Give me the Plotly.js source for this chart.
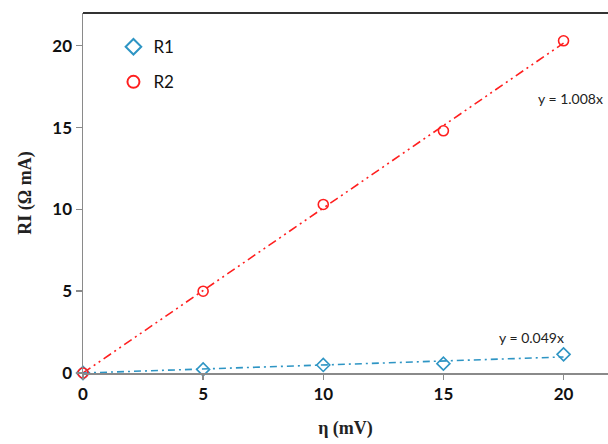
<!DOCTYPE html>
<html>
<head>
<meta charset="utf-8">
<script src="https://cdn.plot.ly/plotly-3.0.1.min.js"></script>
<style>html,body{margin:0;padding:0;background:#fff;}#chart{width:608px;height:444px;}</style>
</head>
<body>
<div id="chart"></div>
<script>
const eta = [0, 5, 10, 15, 20];
const r1 = [0, 0.22, 0.49, 0.57, 1.14];
const r2 = [0, 5.0, 10.3, 14.8, 20.3];
const slopeR1 = 0.049;
const slopeR2 = 1.008;
const trendX = [0, 20];
const xTicks = [0, 5, 10, 15, 20];
const yTicks = [0, 5, 10, 15, 20];

const blue = '#2E95C4';
const red = '#FF1F1F';

const traces = [
  {x: trendX, y: trendX.map(v => v * slopeR2), mode: 'lines', showlegend: false,
   line: {color: red, width: 1.6, dash: '9px,4px,2px,4px,2px,4px'}, hoverinfo: 'skip'},
  {x: trendX, y: trendX.map(v => v * slopeR1), mode: 'lines', showlegend: false,
   line: {color: blue, width: 1.6, dash: '7px,4px,2px,4px'}, hoverinfo: 'skip'},
  {x: eta, y: r1, mode: 'markers', name: 'R1', legendgroup: 'g1', cliponaxis: false,
   marker: {symbol: 'diamond-open', size: 10, color: blue, line: {width: 1.6, color: blue}}},
  {x: eta, y: r2, mode: 'markers', name: 'R2', legendgroup: 'g2', cliponaxis: false,
   marker: {symbol: 'circle-open', size: 10, color: red, line: {width: 1.6, color: red}}}
];

const layout = {
  width: 608, height: 444,
  margin: {l: 83, r: 0, t: 13, b: 71},
  paper_bgcolor: '#fff', plot_bgcolor: '#fff',
  showlegend: true,
  legend: {x: 0.058, y: 0.955, xanchor: 'left', yanchor: 'top', bgcolor: 'rgba(0,0,0,0)',
    font: {family: 'Lato, sans-serif', size: 17, color: '#111'}, tracegroupgap: 10,
    itemwidth: 30, itemsizing: 'constant'},
  xaxis: {
    range: [0, 21.85], tickvals: xTicks, ticktext: xTicks.map(String),
    showgrid: false, zeroline: false, showline: true, linecolor: '#8a8a8a', linewidth: 1.5,
    ticks: 'outside', ticklen: 5, tickcolor: '#8a8a8a', tickwidth: 1.5,
    tickfont: {family: 'Lato, sans-serif', size: 17, color: '#111', weight: 'bold'},
    title: {text: '<b>η (mV)</b>', font: {family: 'Liberation Serif, serif', size: 18, color: '#222'}, standoff: 18}
  },
  yaxis: {
    range: [0, 22], tickvals: yTicks, ticktext: yTicks.map(String),
    showgrid: false, zeroline: false, showline: true, linecolor: '#8a8a8a', linewidth: 1.5,
    ticks: 'outside', ticklen: 6, tickcolor: '#8a8a8a', tickwidth: 1.5,
    tickfont: {family: 'Lato, sans-serif', size: 17, color: '#111', weight: 'bold'},
    title: {text: '<b>RI (Ω mA)</b>', font: {family: 'Liberation Serif, serif', size: 18, color: '#222'}, standoff: 16}
  },
  shapes: [
    {type: 'line', xref: 'paper', yref: 'paper', x0: 0, x1: 1, y0: 1, y1: 1,
     line: {color: '#333', width: 2}}
  ],
  annotations: [
    {x: 20.3, y: 16.8, xref: 'x', yref: 'y', text: 'y = 1.008x', showarrow: false,
     font: {family: 'Lato, sans-serif', size: 14, color: '#222'}},
    {x: 18.65, y: 2.2, xref: 'x', yref: 'y', text: 'y = 0.049x', showarrow: false,
     font: {family: 'Lato, sans-serif', size: 14, color: '#222'}}
  ]
};

Plotly.newPlot('chart', traces, layout, {displayModeBar: false, staticPlot: true});
</script>
</body>
</html>
